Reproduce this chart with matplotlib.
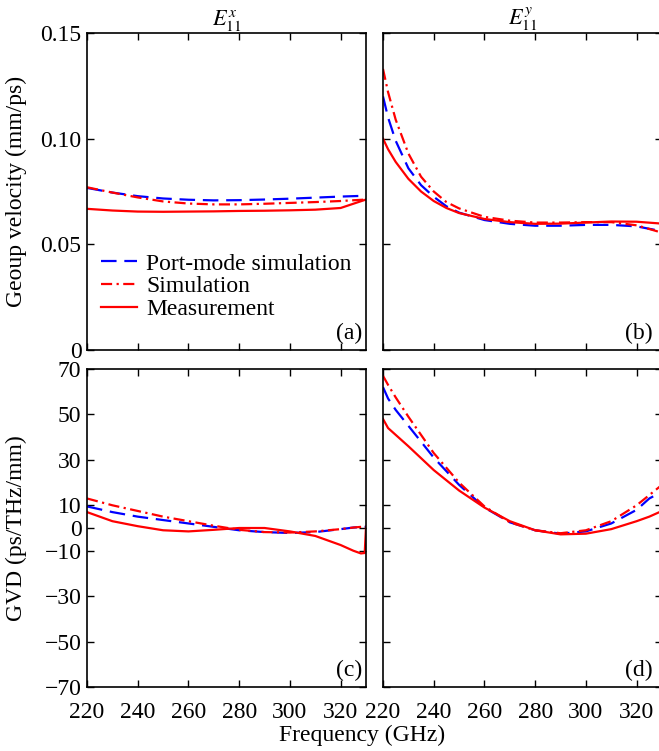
import matplotlib
matplotlib.use("Agg")
import matplotlib.pyplot as plt

plt.rcParams['font.family'] = ['Liberation Serif', 'DejaVu Serif']
plt.rcParams['mathtext.fontset'] = 'stix'
plt.rcParams['font.size'] = 17

# ---- dados ----
# (a) velocidade de grupo, modo E11^x
fa = [220, 230, 240, 250, 260, 270, 280, 290, 300, 310, 320, 330]
va_port = [0.0767, 0.0745, 0.0728, 0.0717, 0.0711, 0.0708, 0.0709, 0.0712, 0.0716, 0.0721, 0.0726, 0.0730]
va_sim = [0.0770, 0.0745, 0.0722, 0.0703, 0.0693, 0.0689, 0.0689, 0.0692, 0.0696, 0.0700, 0.0705, 0.0712]
va_meas = [0.0668, 0.0660, 0.0655, 0.0654, 0.0655, 0.0656, 0.0658, 0.0659, 0.0661, 0.0664, 0.0672, 0.0712]

# (b) velocidade de grupo, modo E11^y
fb = [220, 222, 225, 230, 235, 240, 245, 250, 260, 270, 280, 290, 300, 310, 320, 330]
vb_port = [0.1200, 0.1100, 0.0990, 0.0860, 0.0780, 0.0725, 0.0680, 0.0650, 0.0615, 0.0597, 0.0588, 0.0588, 0.0592, 0.0592, 0.0585, 0.0562]
vb_sim = [0.1330, 0.1220, 0.1090, 0.0930, 0.0820, 0.0750, 0.0700, 0.0670, 0.0630, 0.0612, 0.0603, 0.0603, 0.0605, 0.0605, 0.0590, 0.0555]
vb_meas = [0.1000, 0.0950, 0.0890, 0.0810, 0.0750, 0.0705, 0.0672, 0.0648, 0.0620, 0.0605, 0.0597, 0.0598, 0.0603, 0.0608, 0.0607, 0.0598]

# (c) GVD, modo E11^x
fc = [220, 230, 240, 250, 260, 270, 280, 290, 300, 310, 320, 325, 328, 329.5, 330]
gc_port = [9.5, 7.0, 5.0, 3.5, 2.0, 0.5, -1.0, -1.8, -2.2, -1.8, -0.5, 0.2, 0.4, 0.5, 0.5]
gc_sim = [13.0, 10.0, 7.5, 5.0, 3.0, 1.0, -0.8, -1.8, -2.0, -1.5, -0.5, 0.2, 0.5, 0.6, 0.7]
gc_meas = [7.0, 3.0, 0.8, -1.0, -1.5, -0.8, 0.0, 0.0, -1.5, -3.5, -7.5, -10.0, -11.2, -11.0, 0.5]

# (d) GVD, modo E11^y
fd = [220, 222, 225, 230, 240, 250, 260, 270, 280, 290, 300, 310, 320, 325, 330]
gd_port = [62.0, 57.0, 52.0, 45.0, 31.0, 19.0, 9.0, 2.5, -1.0, -2.5, -1.5, 2.0, 8.0, 13.0, 16.0]
gd_sim = [67.0, 63.0, 57.5, 49.0, 33.0, 20.0, 9.5, 2.5, -1.0, -2.3, -1.0, 3.0, 10.0, 14.5, 19.0]
gd_meas = [48.0, 44.0, 41.0, 36.0, 25.5, 16.5, 9.0, 3.0, -1.0, -2.8, -2.5, -0.5, 3.0, 5.0, 7.5]

xticks = [220, 240, 260, 280, 300, 320]
vticks = [0, 0.05, 0.10, 0.15]
vlabels = ['0', '0.05', '0.10', '0.15']
gticks = [-70, -50, -30, -10, 0, 10, 30, 50, 70]
glabels = ['\u221270', '\u221250', '\u221230', '\u221210', '0', '10', '30', '50', '70']

W, H = 659, 751
fig = plt.figure(figsize=(W / 100, H / 100), dpi=100)

def caixa(x0, ytop, x1, ybot):
    return [x0 / W, 1 - ybot / H, (x1 - x0) / W, (ybot - ytop) / H]

ax_a = fig.add_axes(caixa(87, 33, 366, 350))
ax_b = fig.add_axes(caixa(383, 33, 662, 350))
ax_c = fig.add_axes(caixa(87, 369, 366, 687))
ax_d = fig.add_axes(caixa(383, 369, 662, 687))

azul = '#0000ff'
verm = '#ff0000'
lw = 1.6

def desenha(ax, f, port, sim, meas):
    ax.plot(f, port, color=azul, lw=lw, linestyle=(0, (7, 3.5)), label='Port-mode simulation')
    ax.plot(f, sim, color=verm, lw=lw, linestyle=(0, (5, 2, 1, 2)), label='Simulation')
    ax.plot(f, meas, color=verm, lw=lw, linestyle='-', label='Measurement')

desenha(ax_a, fa, va_port, va_sim, va_meas)
desenha(ax_b, fb, vb_port, vb_sim, vb_meas)
desenha(ax_c, fc, gc_port, gc_sim, gc_meas)
desenha(ax_d, fd, gd_port, gd_sim, gd_meas)

for ax in [ax_a, ax_b, ax_c, ax_d]:
    ax.set_xlim(220, 330)
    ax.set_xticks(xticks)
    ax.tick_params(direction='in', top=True, right=True, length=5, width=1)
    ax.tick_params(axis='y', pad=4)
    ax.tick_params(axis='x', pad=11)
    for s in ax.spines.values():
        s.set_linewidth(1.2)

for ax in [ax_a, ax_b]:
    ax.set_ylim(0, 0.15)
    ax.set_yticks(vticks)
    ax.set_xticklabels([])
for ax in [ax_c, ax_d]:
    ax.set_ylim(-70, 70)
    ax.set_yticks(gticks)

ax_a.set_yticklabels(vlabels)
ax_c.set_yticklabels(glabels)
ax_b.set_yticklabels([])
ax_d.set_yticklabels([])

ax_a.set_ylabel('Geoup velocity (mm/ps)')
ax_c.set_ylabel('GVD (ps/THz/mm)')
ax_a.yaxis.set_label_coords(-0.215, 0.5)
ax_c.yaxis.set_label_coords(-0.215, 0.5)
fig.text(362 / W, 1 - 735 / H, 'Frequency (GHz)', ha='center', va='center')

ax_a.set_title(r'$E_{11}^{x}$', pad=1, fontsize=16)
ax_b.set_title(r'$E_{11}^{y}$', pad=1, fontsize=16)

for ax, txt, xp in zip([ax_a, ax_b, ax_c, ax_d], ['(a)', '(b)', '(c)', '(d)'],
                       [0.985, 0.965, 0.985, 0.965]):
    ax.text(xp, 0.02, txt, transform=ax.transAxes, ha='right', va='bottom')

ax_a.legend(loc='lower left', bbox_to_anchor=(0.0, 0.05), frameon=False,
            handlelength=1.5, handletextpad=0.4, labelspacing=0.05, borderaxespad=0.2)

fig.savefig('out.png', dpi=100)
